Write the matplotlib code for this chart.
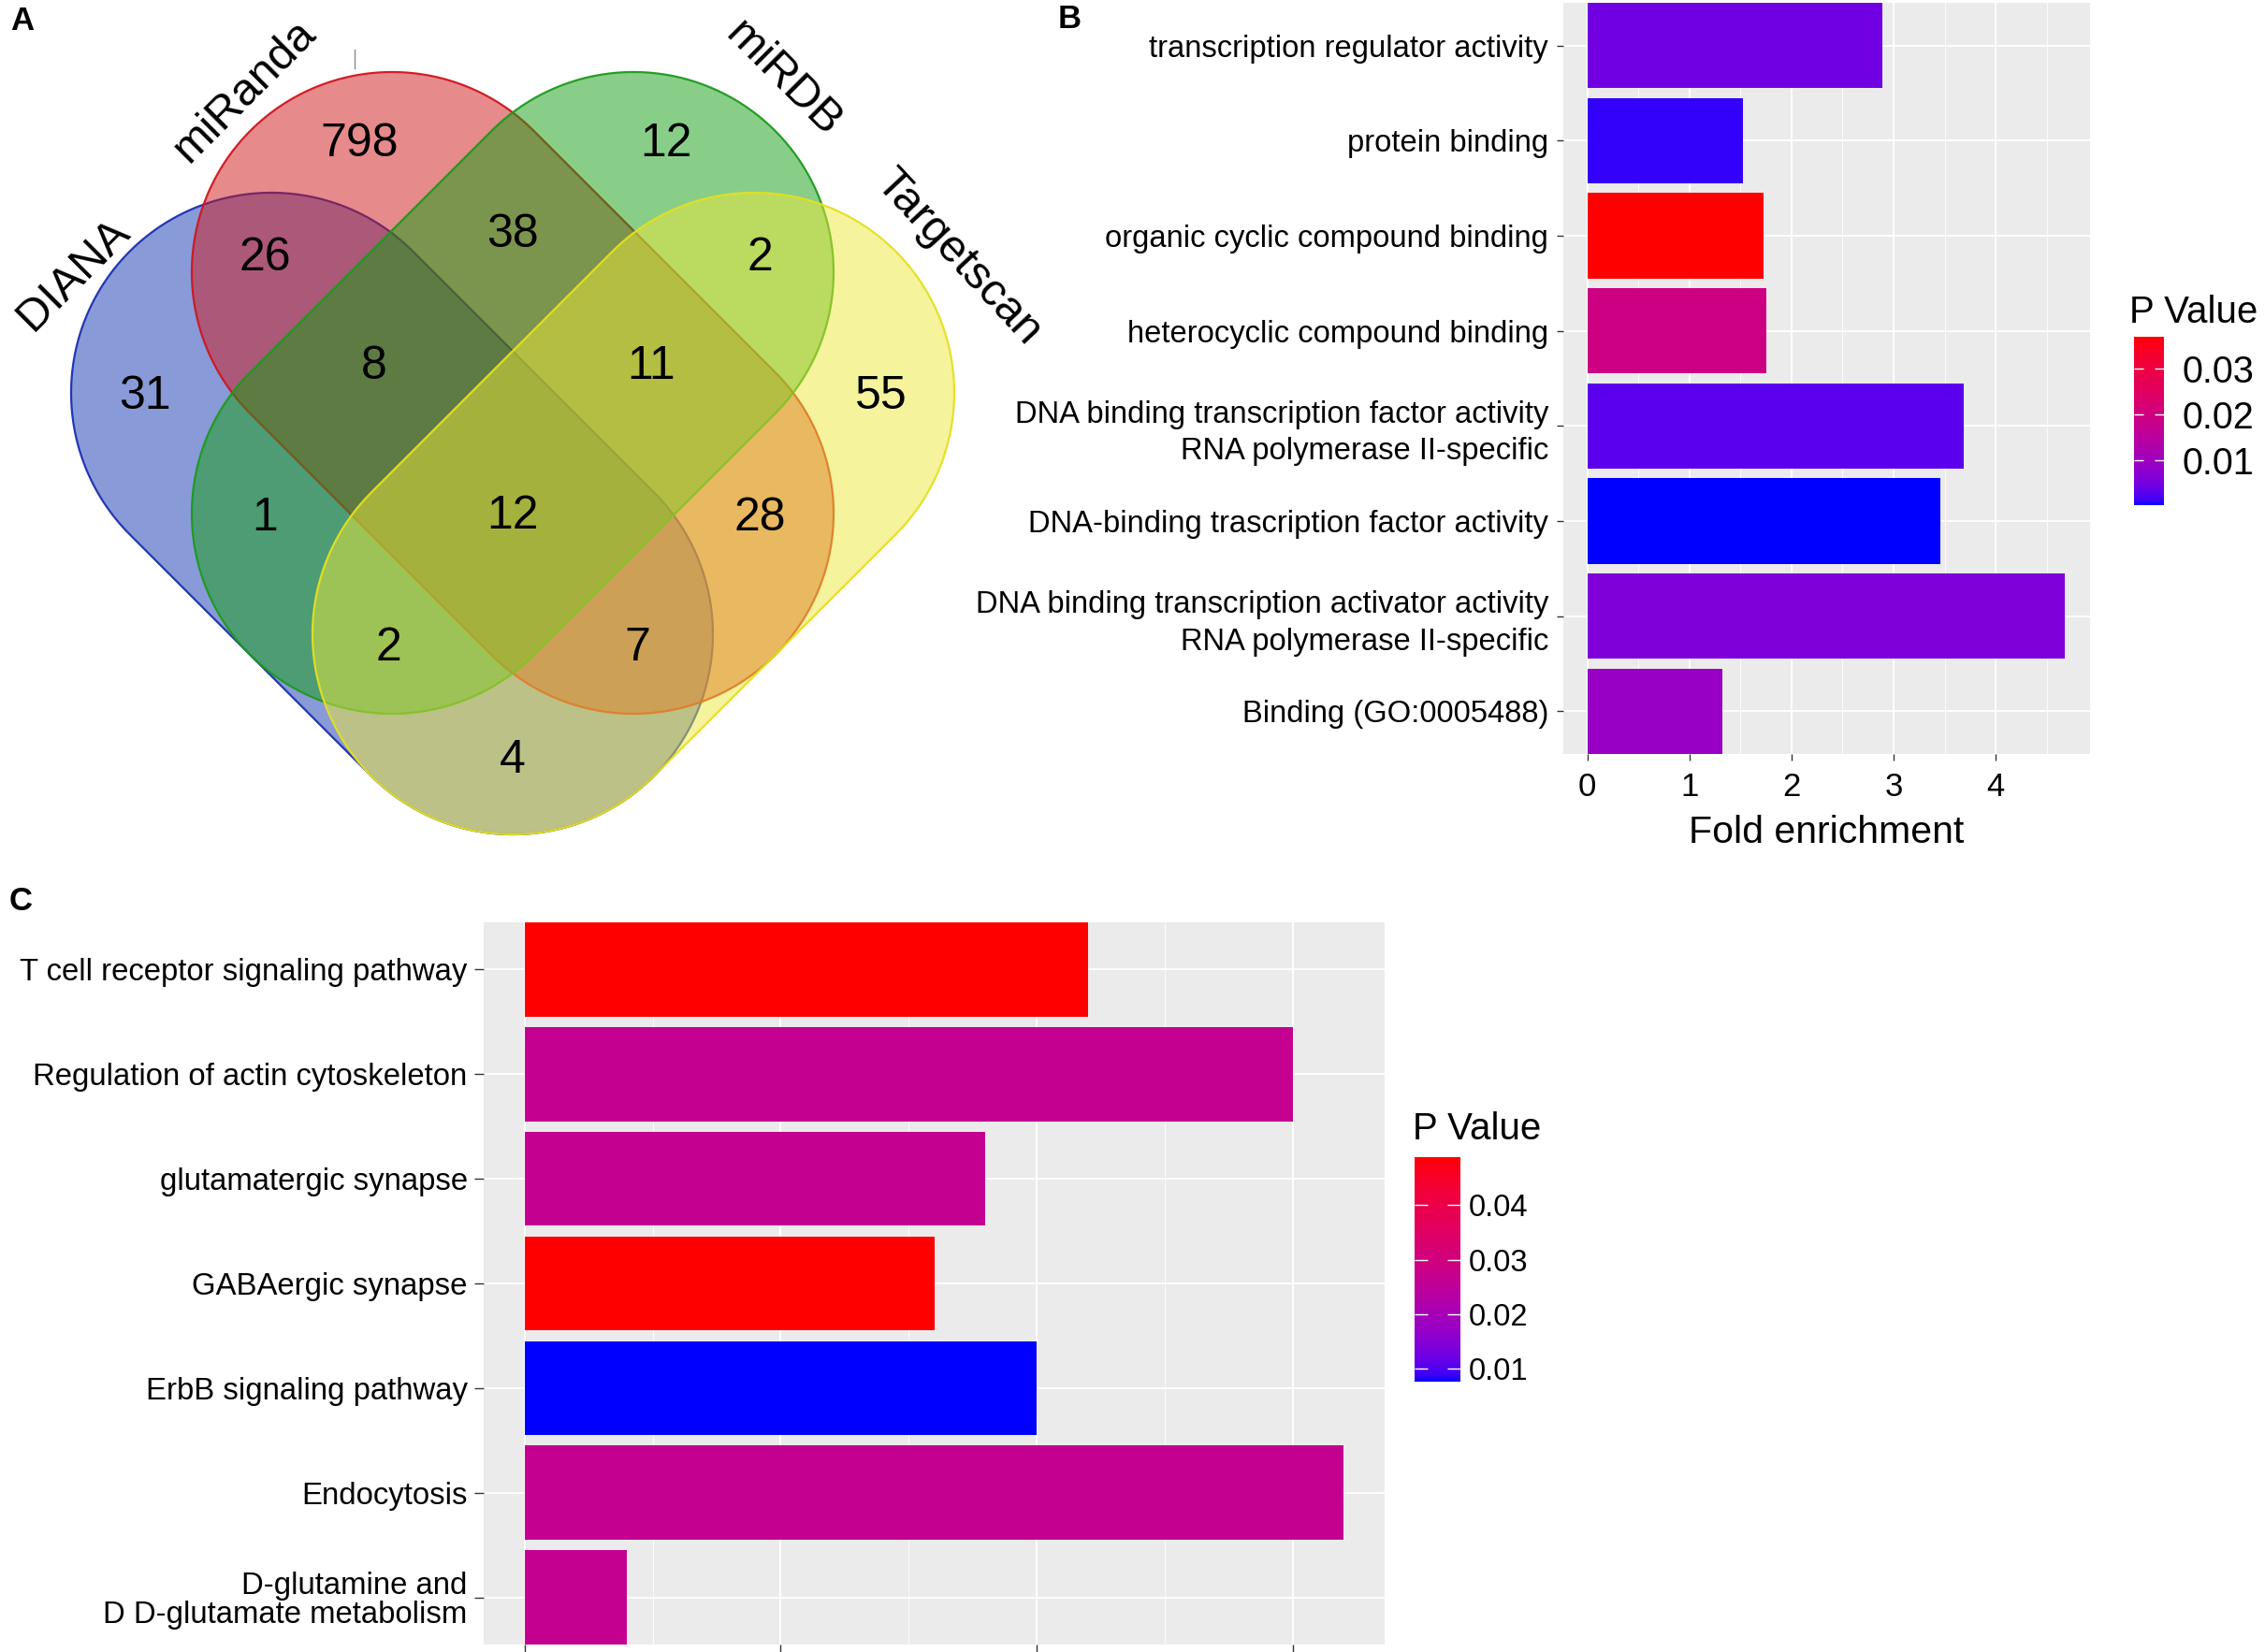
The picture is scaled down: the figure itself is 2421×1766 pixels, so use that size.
import numpy as np
import matplotlib
matplotlib.use("Agg")
import matplotlib.pyplot as plt
from matplotlib.patches import Polygon
from matplotlib.colors import ListedColormap, Normalize, to_rgba
from matplotlib.ticker import MultipleLocator, FixedLocator
import matplotlib.cm as cm

plt.rcParams['font.family'] = ['Liberation Sans', 'DejaVu Sans']

# ---------------- DATA ----------------
# Panel A: Venn diagram
venn_sets = ['DIANA', 'miRanda', 'miRDB', 'Targetscan']
venn_regions = ['DIANA', 'miRanda', 'miRDB', 'Targetscan',
                'DIANA&miRanda', 'miRanda&miRDB', 'miRDB&Targetscan',
                'DIANA&miRDB', 'miRanda&Targetscan', 'DIANA&Targetscan',
                'DIANA&miRanda&miRDB', 'miRanda&miRDB&Targetscan',
                'DIANA&miRDB&Targetscan', 'DIANA&miRanda&Targetscan',
                'DIANA&miRanda&miRDB&Targetscan']
venn_counts = [31, 798, 12, 55, 26, 38, 2, 1, 28, 4, 8, 11, 2, 7, 12]

# Panel B: GO terms
go_terms = ['transcription regulator activity',
            'protein binding',
            'organic cyclic compound binding',
            'heterocyclic compound binding',
            'DNA binding transcription factor activity\nRNA polymerase II-specific',
            'DNA-binding trascription factor activity',
            'DNA binding transcription activator activity\nRNA polymerase II-specific',
            'Binding (GO:0005488)']
go_fold = [2.89, 1.525, 1.725, 1.75, 3.69, 3.46, 4.68, 1.32]
go_p = [0.0045, 0.0010, 0.0370, 0.0193, 0.0029, 0.0001, 0.0060, 0.0090]
go_xticks = [0, 1, 2, 3, 4]
go_cbar_ticks = [0.01, 0.02, 0.03]

# Panel C: KEGG pathways
kegg_terms = ['T cell receptor signaling pathway',
              'Regulation of actin cytoskeleton',
              'glutamatergic synapse',
              'GABAergic synapse',
              'ErbB signaling pathway',
              'Endocytosis',
              'D-glutamine and\nD D-glutamate metabolism']
kegg_count = [11, 15, 9, 8, 10, 16, 2]
kegg_p = [0.0488, 0.0266, 0.0266, 0.0488, 0.0076, 0.0266, 0.0266]
kegg_xticks = [0, 5, 10, 15]
kegg_cbar_ticks = [0.01, 0.02, 0.03, 0.04]

# ---------------- helpers ----------------
def _lin(c):
    c = np.asarray(c, float)
    return np.where(c <= 0.04045, c / 12.92, ((c + 0.055) / 1.055) ** 2.4)

def _gam(c):
    c = np.clip(c, 0, 1)
    return np.where(c <= 0.0031308, 12.92 * c, 1.055 * c ** (1 / 2.4) - 0.055)

M = np.array([[0.4124, 0.3576, 0.1805],
              [0.2126, 0.7152, 0.0722],
              [0.0193, 0.1192, 0.9505]])
Mi = np.linalg.inv(M)
WN = np.array([0.95047, 1.0, 1.08883])

def _f(t):
    d = 6 / 29
    return np.where(t > d ** 3, np.cbrt(t), t / (3 * d * d) + 4 / 29)

def _fi(t):
    d = 6 / 29
    return np.where(t > d, t ** 3, 3 * d * d * (t - 4 / 29))

def rgb2lab(rgb):
    xyz = M @ _lin(rgb) / WN
    fx, fy, fz = _f(xyz)
    return np.array([116 * fy - 16, 500 * (fx - fy), 200 * (fy - fz)])

def lab2rgb(lab):
    L, a, b = lab
    fy = (L + 16) / 116
    fx = fy + a / 500
    fz = fy - b / 200
    xyz = np.array([_fi(fx), _fi(fy), _fi(fz)]) * WN
    return _gam(Mi @ xyz)

lab_lo = rgb2lab([0, 0, 1])
lab_hi = rgb2lab([1, 0, 0])
grad = [lab2rgb(lab_lo + t * (lab_hi - lab_lo)) for t in np.linspace(0, 1, 256)]
cmap = ListedColormap(grad)


def stadium(p1, p2, r, n=120):
    p1 = np.asarray(p1, float); p2 = np.asarray(p2, float)
    d = p2 - p1
    ang = np.arctan2(d[1], d[0])
    a1 = np.linspace(ang - np.pi / 2, ang + np.pi / 2, n)
    a2 = np.linspace(ang + np.pi / 2, ang + 3 * np.pi / 2, n)
    pts = np.vstack([p2 + r * np.c_[np.cos(a1), np.sin(a1)],
                     p1 + r * np.c_[np.cos(a2), np.sin(a2)]])
    return pts


W, H = 2421, 1766
fig = plt.figure(figsize=(W / 100, H / 100), dpi=100)


def frac(x0, y0, x1, y1):
    return [x0 / W, 1 - y1 / H, (x1 - x0) / W, (y1 - y0) / H]

# ---------------- Panel A ----------------
axv = fig.add_axes(frac(0, 0, 1100, 930))
cx, cy, unit = 548, 420, 129
axv.set_xlim((0 - cx) / unit, (1100 - cx) / unit)
axv.set_ylim(-(930 - cy) / unit, cy / unit)
axv.axis('off')

R = 214 / unit
shape_caps = {
    'DIANA': ((-2, 0), (0, -2)),
    'miRanda': ((-1, 1), (1, -1)),
    'miRDB': ((1, 1), (-1, -1)),
    'Targetscan': ((2, 0), (0, -2)),
}
fills = {'DIANA': (0.08, 0.21, 0.70), 'miRanda': (0.81, 0.09, 0.10),
         'miRDB': (0.07, 0.62, 0.07), 'Targetscan': (0.93, 0.91, 0.22)}
edges = {'DIANA': '#1a2fb0', 'miRanda': '#d0161e', 'miRDB': '#1c9a1c',
         'Targetscan': '#e4e020'}
for i, s in enumerate(venn_sets):
    p1, p2 = shape_caps[s]
    pts = stadium(p1, p2, R)
    axv.add_patch(Polygon(pts, closed=True, facecolor=to_rgba(fills[s], 0.5),
                          edgecolor=to_rgba(edges[s], 0.95), lw=1.6,
                          zorder=2 + i))

region_pos = {
    'DIANA': (-3.05, -0.03), 'miRanda': (-1.27, 2.06), 'miRDB': (1.27, 2.06),
    'Targetscan': (3.05, -0.03), 'DIANA&miRanda': (-2.05, 1.12),
    'miRanda&miRDB': (0, 1.31), 'miRDB&Targetscan': (2.05, 1.12),
    'DIANA&miRDB': (-2.05, -1.04), 'miRanda&Targetscan': (2.05, -1.04),
    'DIANA&Targetscan': (0, -3.05), 'DIANA&miRanda&miRDB': (-1.15, 0.22),
    'miRanda&miRDB&Targetscan': (1.15, 0.22),
    'DIANA&miRDB&Targetscan': (-1.03, -2.12),
    'DIANA&miRanda&Targetscan': (1.03, -2.12),
    'DIANA&miRanda&miRDB&Targetscan': (0, -1.02),
}
for reg, cnt in zip(venn_regions, venn_counts):
    x, y = region_pos[reg]
    axv.text(x, y, str(cnt), ha='center', va='center', fontsize=36,
             color='black', zorder=10)

label_pos = {'DIANA': (-3.64, 0.98, 45), 'miRanda': (-2.22, 2.50, 45),
             'miRDB': (2.24, 2.60, -45), 'Targetscan': (3.69, 1.12, -47)}
for s in venn_sets:
    x, y, rot = label_pos[s]
    axv.text(x, y, s, ha='center', va='center', rotation=rot,
             rotation_mode='anchor', fontsize=35, color='black', zorder=10)
axv.plot([-1.31, -1.31], [2.845, 2.69], color='#888888', lw=1.0, zorder=10)

# ---------------- common bar styling ----------------
def style_ax(ax, fs_y, tick_len, pad_y):
    ax.set_facecolor('#EBEBEB')
    for sp in ax.spines.values():
        sp.set_visible(False)
    ax.set_axisbelow(True)
    ax.grid(which='major', axis='both', color='white', lw=1.3)
    ax.grid(which='minor', axis='x', color='white', lw=0.6)
    ax.tick_params(axis='y', which='major', length=tick_len, width=1.0,
                   color='#333333', labelsize=fs_y, pad=pad_y, labelcolor='black')
    ax.tick_params(axis='y', which='minor', length=0)
    ax.tick_params(axis='x', which='minor', length=0)

# ---------------- Panel B ----------------
axb = fig.add_axes(frac(1671, 3, 2234, 806))
normb = Normalize(vmin=min(go_p), vmax=max(go_p))
yb = np.arange(len(go_terms))
axb.barh(yb, go_fold, height=0.9, color=cmap(normb(np.array(go_p))), zorder=3)
axb.set_yticks(yb)
axb.set_yticklabels(go_terms, ha='right', linespacing=1.35)
axb.set_ylim(len(go_terms) - 0.55, -0.45)
axb.set_xlim(-0.2345, 4.9245)
axb.xaxis.set_major_locator(FixedLocator(go_xticks))
axb.xaxis.set_minor_locator(MultipleLocator(0.5))
style_ax(axb, 23.6, 5, 6.5)
axb.tick_params(axis='x', which='major', length=5, width=1.0, color='#333333',
                labelsize=25, pad=9, labelcolor='black')
axb.set_xlabel('Fold enrichment', fontsize=29.5, labelpad=9)

caxb = fig.add_axes(frac(2281, 360, 2313, 540))
cbb = fig.colorbar(cm.ScalarMappable(norm=normb, cmap=cmap), cax=caxb,
                   ticks=go_cbar_ticks)
cbb.outline.set_visible(False)
caxb.tick_params(axis='y', direction='in', length=7, width=1.0, color='white',
                 left=True, right=True, labelsize=28.5, pad=14)
caxb.set_yticklabels(['%.2f' % t for t in go_cbar_ticks])
fig.text(2276 / W, 1 - 334 / H, 'P Value', fontsize=29, ha='left', va='center')

# ---------------- Panel C ----------------
axc = fig.add_axes(frac(517, 986, 1480, 1758))
normc = Normalize(vmin=min(kegg_p), vmax=max(kegg_p))
yc = np.arange(len(kegg_terms))
axc.barh(yc, kegg_count, height=0.9, color=cmap(normc(np.array(kegg_p))), zorder=3)
axc.set_yticks(yc)
axc.set_yticklabels(kegg_terms, ha='right', linespacing=1.0)
axc.set_ylim(len(kegg_terms) - 0.55, -0.45)
axc.set_xlim(-0.8, 16.8)
axc.xaxis.set_major_locator(FixedLocator(kegg_xticks))
axc.xaxis.set_minor_locator(MultipleLocator(2.5))
style_ax(axc, 23.7, 7, 5.5)
axc.tick_params(axis='x', which='major', length=7, width=1.0, color='#333333',
                labelbottom=False)

caxc = fig.add_axes(frac(1512, 1237, 1561, 1477))
cbc = fig.colorbar(cm.ScalarMappable(norm=normc, cmap=cmap), cax=caxc,
                   ticks=kegg_cbar_ticks)
cbc.outline.set_visible(False)
caxc.tick_params(axis='y', direction='in', length=10, width=1.0, color='white',
                 left=True, right=True, labelsize=23.5, pad=6)
caxc.set_yticklabels(['%.2f' % t for t in kegg_cbar_ticks])
fig.text(1510 / W, 1 - 1207 / H, 'P Value', fontsize=29, ha='left', va='center')

# ---------------- panel letters ----------------
fig.text(24 / W, 1 - 22 / H, 'A', fontsize=25, fontweight='bold', ha='center', va='center')
fig.text(1143 / W, 1 - 20 / H, 'B', fontsize=25, fontweight='bold', ha='center', va='center')
fig.text(22 / W, 1 - 963 / H, 'C', fontsize=25, fontweight='bold', ha='center', va='center')

fig.savefig('out.png', dpi=100, facecolor='white')
